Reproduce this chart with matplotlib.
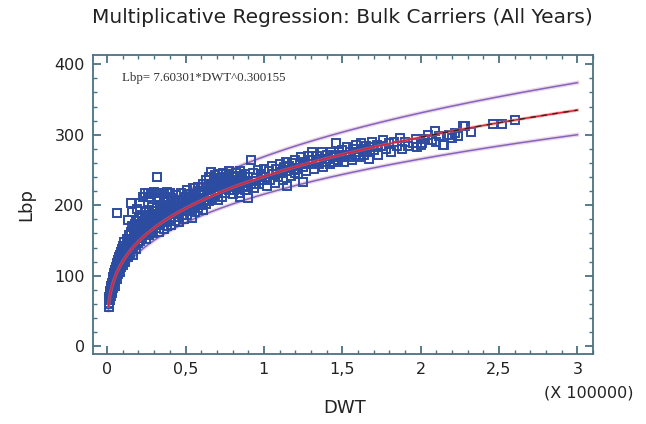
import numpy as np
import matplotlib
matplotlib.use("Agg")
import matplotlib.pyplot as plt
from matplotlib.ticker import MultipleLocator

# ---------------- data (DWT in units of 100000, Lbp in m) ----------------
dwt_a = [0.010, 0.012, 0.010, 0.015, 0.015, 0.018, 0.020, 0.020, 0.022, 0.025, 0.025, 0.028, 0.030, 0.030,
         0.033, 0.035, 0.038, 0.040, 0.040, 0.043, 0.045, 0.048, 0.050, 0.050, 0.053, 0.055, 0.058, 0.060,
         0.060, 0.063, 0.065, 0.068, 0.070, 0.070, 0.073, 0.075, 0.078, 0.080, 0.080, 0.083, 0.085, 0.088,
         0.090, 0.090, 0.093, 0.095, 0.098, 0.064]
lbp_a = [56, 62, 66, 60, 70, 74, 66, 78, 82, 72, 86, 80, 90, 76,
         86, 94, 82, 98, 88, 104, 92, 100, 108, 86, 96, 112, 104, 118,
         96, 108, 114, 122, 102, 116, 126, 110, 120, 130, 106, 116, 124, 134,
         112, 128, 138, 120, 130, 189]

dwt_b = [0.10, 0.10, 0.105, 0.11, 0.11, 0.115, 0.12, 0.12, 0.125, 0.13, 0.13, 0.135, 0.14, 0.14, 0.145,
         0.15, 0.15, 0.155, 0.16, 0.16, 0.165, 0.17, 0.17, 0.175, 0.18, 0.18, 0.185, 0.19, 0.19, 0.195,
         0.20, 0.20, 0.205, 0.21, 0.21, 0.215, 0.22, 0.22, 0.225, 0.23, 0.23, 0.235, 0.24, 0.24, 0.245,
         0.25, 0.25, 0.255, 0.26, 0.26, 0.265, 0.27, 0.27, 0.275, 0.28, 0.28, 0.285, 0.29, 0.29, 0.295,
         0.30, 0.30,
         0.13, 0.15, 0.17, 0.21, 0.16, 0.19, 0.23,
         0.24, 0.26, 0.28, 0.30, 0.32, 0.34, 0.36, 0.38, 0.40, 0.27, 0.33, 0.37, 0.32]
lbp_b = [142, 116, 124, 134, 148, 120, 140, 128, 152, 135, 145, 126, 158, 140, 132,
         148, 162, 138, 152, 170, 130, 144, 158, 174, 150, 164, 138, 156, 178, 146,
         162, 170, 182, 150, 158, 172, 164, 186, 154, 170, 178, 160, 184, 168, 152,
         174, 190, 162, 180, 168, 194, 158, 176, 186, 166, 180, 198, 172, 160, 188,
         176, 192,
         179, 203, 165, 203, 190, 195, 212,
         217, 218, 216, 219, 217, 218, 216, 219, 217, 212, 211, 212, 240]

dwt_c = [0.31, 0.31, 0.32, 0.32, 0.33, 0.33, 0.34, 0.34, 0.35, 0.35, 0.36, 0.36, 0.37, 0.37, 0.38, 0.38,
         0.39, 0.39, 0.40, 0.40, 0.41, 0.41, 0.42, 0.42, 0.43, 0.43, 0.44, 0.44, 0.45, 0.45, 0.46, 0.46,
         0.47, 0.47, 0.48, 0.48, 0.49, 0.49, 0.50, 0.50, 0.51, 0.51, 0.52, 0.52, 0.53, 0.53, 0.54, 0.54,
         0.55, 0.55, 0.56, 0.56, 0.57, 0.57, 0.58, 0.58, 0.59, 0.59, 0.60, 0.60]
lbp_c = [168, 184, 176, 196, 162, 188, 172, 200, 180, 192, 166, 204, 186, 176, 196, 170,
         190, 206, 180, 198, 172, 210, 188, 196, 178, 206, 192, 214, 184, 200, 176, 208,
         194, 218, 186, 204, 198, 180, 212, 192, 222, 186, 200, 208, 194, 216, 182, 204,
         224, 198, 210, 190, 216, 202, 226, 196, 208, 220, 200, 214]

dwt_d = [0.61, 0.61, 0.62, 0.62, 0.63, 0.63, 0.64, 0.64, 0.65, 0.65, 0.66, 0.66, 0.67, 0.67, 0.68, 0.68,
         0.69, 0.69, 0.70, 0.70, 0.71, 0.71, 0.72, 0.72, 0.73, 0.73, 0.74, 0.74, 0.75, 0.75, 0.76, 0.76,
         0.77, 0.78, 0.78, 0.79, 0.80, 0.80, 0.81, 0.82, 0.82, 0.83, 0.84, 0.84, 0.85, 0.86, 0.87, 0.88,
         0.88, 0.89, 0.90, 0.92, 0.92, 0.93, 0.94, 0.95, 0.96, 0.97, 0.98, 0.99, 1.00, 0.90, 0.85]
lbp_d = [230, 194, 208, 220, 236, 202, 214, 226, 240, 206, 247, 218, 230, 210, 238, 222,
         243, 214, 228, 236, 218, 244, 226, 232, 240, 212, 246, 224, 234, 218, 244, 228,
         238, 248, 222, 232, 242, 216, 236, 246, 226, 240, 232, 218, 248, 236, 228, 221,
         244, 232, 240, 264, 230, 246, 224, 238, 250, 230, 244, 236, 252, 210, 212]

dwt_e = [1.01, 1.02, 1.03, 1.04, 1.05, 1.06, 1.07, 1.08, 1.09, 1.10, 1.11, 1.12, 1.13, 1.14, 1.15, 1.15,
         1.16, 1.17, 1.18, 1.19, 1.20, 1.21, 1.22, 1.23, 1.24, 1.25, 1.25, 1.26, 1.27, 1.28, 1.29, 1.30,
         1.31, 1.32, 1.33, 1.34, 1.35, 1.36, 1.37, 1.38, 1.39, 1.40, 1.41, 1.42, 1.43, 1.44, 1.45, 1.46,
         1.46, 1.47, 1.48, 1.49, 1.50]
lbp_e = [240, 228, 248, 236, 256, 244, 232, 252, 240, 258, 246, 236, 254, 262, 228, 248,
         256, 242, 260, 250, 264, 252, 244, 258, 268, 233, 254, 262, 248, 270, 258, 264,
         275, 252, 262, 270, 258, 266, 276, 254, 262, 272, 266, 258, 276, 268, 262, 288,
         272, 264, 276, 268, 278]

dwt_f = [1.51, 1.52, 1.53, 1.54, 1.55, 1.56, 1.57, 1.58, 1.59, 1.60, 1.61, 1.62, 1.63, 1.64, 1.65, 1.66,
         1.67, 1.68, 1.69, 1.70, 1.72, 1.73, 1.75, 1.76, 1.78, 1.80, 1.81, 1.83, 1.85, 1.87, 1.88, 1.90,
         1.92, 1.95, 1.97, 1.98]
lbp_f = [262, 272, 282, 268, 276, 264, 280, 272, 286, 276, 268, 289, 280, 272, 284, 276,
         266, 282, 290, 278, 286, 272, 284, 292, 280, 288, 276, 290, 284, 296, 280, 290,
         284, 288, 294, 282]

dwt_g = [2.00, 2.01, 2.03, 2.05, 2.07, 2.09, 2.12, 2.14, 2.15, 2.18, 2.20, 2.24, 2.27, 2.28, 2.32, 2.46,
         2.52, 2.60, 2.10, 2.22]
lbp_g = [285, 288, 294, 300, 292, 306, 298, 286, 285, 300, 296, 298, 312, 313, 304, 316,
         315, 321, 290, 302]

# extra vessels filling the dense core of the cloud
dwt_h = [0.06, 0.07, 0.08, 0.09, 0.10, 0.11, 0.12, 0.13, 0.14, 0.15, 0.16, 0.17, 0.18, 0.19, 0.20,
         0.21, 0.22, 0.23, 0.24, 0.25, 0.26, 0.27, 0.28, 0.29, 0.30, 0.32, 0.34, 0.36, 0.38, 0.40,
         0.42, 0.44, 0.46, 0.48, 0.50, 0.52, 0.54, 0.56, 0.58, 0.60, 0.62, 0.64, 0.66, 0.68, 0.70,
         0.72, 0.74, 0.76, 0.78, 0.80, 0.82, 0.84, 0.86, 0.88, 0.90, 0.94, 0.98, 1.05, 1.12, 1.20,
         0.35, 0.45, 0.55, 0.65, 0.75, 0.85, 0.95, 0.31, 0.41, 0.51, 0.61, 0.71, 0.81]
lbp_h = [106, 112, 118, 122, 128, 130, 134, 138, 144, 142, 146, 150, 156, 160, 156,
         164, 158, 164, 174, 166, 172, 170, 174, 180, 182, 182, 186, 184, 190, 188,
         192, 198, 196, 194, 202, 204, 196, 204, 210, 208, 214, 206, 212, 226, 220,
         238, 232, 236, 230, 228, 232, 226, 242, 234, 226, 234, 242, 244, 250, 246,
         196, 188, 206, 222, 226, 240, 230, 192, 200, 204, 220, 208, 222]

# fitted model  Lbp = a * DWT^b  and prediction-limit factor (log scale)
coef_a = 7.60301
coef_b = 0.300155
band_log = 0.11
x_scale = 100000

dwt = np.array(dwt_a + dwt_b + dwt_c + dwt_d + dwt_e + dwt_f + dwt_g + dwt_h)
lbp = np.array(lbp_a + lbp_b + lbp_c + lbp_d + lbp_e + lbp_f + lbp_g + lbp_h)

xtick_vals = [0, 0.5, 1, 1.5, 2, 2.5, 3]
xtick_labels = ['0', '0,5', '1', '1,5', '2', '2,5', '3']
ytick_vals = [0, 100, 200, 300, 400]

# ---------------- figure ----------------
fig = plt.figure(figsize=(6.46, 4.24), dpi=100)
ax = fig.add_axes([0.144, 0.165, 0.774, 0.705])

frame_col = '#4a7284'
xs = np.linspace(0.008, 3.0, 400)
fit = coef_a * (xs * x_scale) ** coef_b
up = fit * np.exp(band_log)
lo = fit * np.exp(-band_log)

for yy in (up, lo):
    ax.plot(xs, yy, color='#e8b8d8', lw=3.0, alpha=0.6, zorder=2)
    ax.plot(xs, yy, color='#7d68c0', lw=1.1, zorder=3)

ax.plot(dwt, lbp, linestyle='none', marker='s', markersize=5.4, markerfacecolor='none',
        markeredgecolor='#2c4ca2', markeredgewidth=1.4, zorder=4)

ax.plot(xs, fit, color='#f07060', lw=2.4, alpha=0.45, zorder=5)
ax.plot(xs, fit, color='#e0203a', lw=1.1, zorder=6)
m = xs > 2.0
ax.plot(xs[m], fit[m], color='#402020', lw=1.0, dashes=(4, 4), zorder=7)

ax.set_xlim(-0.09, 3.1)
ax.set_ylim(-11, 413)
ax.set_xticks(xtick_vals)
ax.set_xticklabels(xtick_labels)
ax.set_yticks(ytick_vals)
ax.xaxis.set_minor_locator(MultipleLocator(0.1))
ax.yaxis.set_minor_locator(MultipleLocator(20))
ax.tick_params(which='both', direction='in', top=True, right=True, color=frame_col,
               labelsize=11.5, labelcolor='#222222', pad=6)
ax.tick_params(which='major', length=6, width=1.3)
ax.tick_params(which='minor', length=3, width=1.0)
for sp in ax.spines.values():
    sp.set_color(frame_col)
    sp.set_linewidth(1.3)

ax.text(0.058, 0.925, 'Lbp= 7.60301*DWT^0.300155', transform=ax.transAxes,
        family='Liberation Serif', fontsize=9.3, color='#333333', va='center')

fig.text(0.53, 0.958, 'Multiplicative Regression: Bulk Carriers (All Years)',
         ha='center', va='center', fontsize=14.5, color='#222222')
fig.text(0.04, 0.518, 'Lbp', rotation=90, ha='center', va='center', fontsize=13, color='#222222')
fig.text(0.534, 0.038, 'DWT', ha='center', va='center', fontsize=13, color='#222222')
fig.text(0.912, 0.073, '(X 100000)', ha='center', va='center', fontsize=11.5, color='#222222')

fig.savefig('out.png', dpi=100)
